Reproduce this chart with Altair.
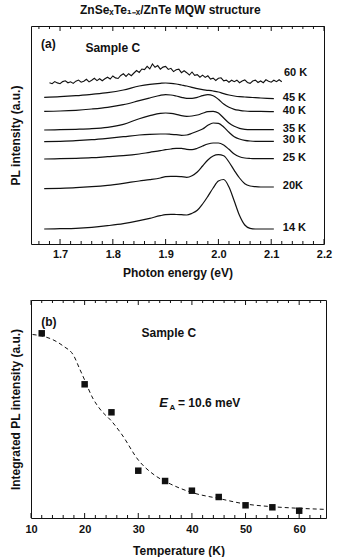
import altair as alt
import pandas as pd

# ---------------- data ----------------
E_GRID = [1.67, 1.70, 1.73, 1.76, 1.79, 1.82, 1.85, 1.87, 1.89, 1.90, 1.91, 1.92,
          1.93, 1.94, 1.95, 1.96, 1.97, 1.98, 1.99, 2.00, 2.01, 2.02, 2.03, 2.04,
          2.05, 2.06, 2.07, 2.08, 2.105]

I_14K = [15.0, 15.3, 15.7, 16.7, 18.3, 20.3, 23.3, 25.7, 28.3, 29.3, 29.7, 29.5,
         29.3, 29.0, 30.7, 33.7, 40.0, 47.7, 56.0, 63.0, 64.5, 57.0, 43.0, 28.5,
         19.0, 15.7, 15.0, 15.0, 15.0]
I_20K = [55.3, 55.7, 56.3, 57.3, 58.7, 60.7, 63.0, 64.3, 66.0, 67.3, 67.7, 67.7,
         67.3, 66.7, 68.3, 72.0, 78.0, 84.0, 88.0, 89.3, 88.3, 82.0, 73.7, 66.0,
         60.3, 58.0, 57.3, 57.0, 57.0]
I_25K = [85.0, 85.3, 85.7, 86.3, 87.3, 88.3, 90.0, 91.7, 93.3, 94.3, 95.0, 95.7,
         95.7, 94.7, 94.3, 95.7, 98.0, 100.0, 101.0, 101.0, 99.0, 94.7, 90.0, 87.3,
         86.0, 85.5, 85.3, 85.3, 85.3]
I_30K = [102.3, 102.7, 103.3, 104.3, 105.7, 107.3, 109.0, 109.7, 110.0, 110.0, 109.7, 109.3,
         108.7, 109.0, 110.7, 112.7, 115.0, 118.7, 121.0, 120.7, 117.0, 111.7, 107.3, 105.0,
         103.7, 103.0, 102.7, 102.7, 102.7]
I_35K = [114.0, 114.3, 114.7, 115.3, 116.7, 119.7, 125.3, 128.3, 130.7, 131.0, 130.7, 129.7,
         128.3, 127.7, 128.0, 129.0, 130.7, 132.3, 132.7, 131.0, 126.0, 121.0, 117.7, 115.7,
         114.7, 114.3, 114.3, 114.3, 114.3]
I_40K = [132.7, 133.0, 133.7, 135.0, 136.7, 139.3, 143.3, 146.0, 148.7, 149.3, 149.0, 148.0,
         146.7, 145.7, 145.7, 146.7, 148.3, 149.3, 148.3, 144.7, 140.0, 136.7, 134.7, 133.7,
         133.0, 132.7, 132.7, 132.7, 132.3]
I_45K = [146.7, 147.3, 148.3, 149.7, 151.3, 154.0, 158.0, 159.7, 160.7, 161.0, 160.7, 160.0,
         159.0, 158.0, 156.7, 155.3, 154.3, 153.7, 153.0, 152.0, 150.3, 149.0, 148.0, 147.3,
         147.0, 146.7, 146.3, 146.0, 145.3]

E_60K = [1.680, 1.685, 1.690, 1.695, 1.700, 1.705, 1.710, 1.715, 1.720, 1.725,
         1.730, 1.735, 1.740, 1.745, 1.750, 1.755, 1.760, 1.765, 1.770, 1.775,
         1.780, 1.785, 1.790, 1.795, 1.800, 1.805, 1.810, 1.815, 1.820, 1.825,
         1.830, 1.835, 1.840, 1.845, 1.850, 1.855, 1.860, 1.865, 1.870, 1.875,
         1.880, 1.885, 1.890, 1.895, 1.900, 1.905, 1.910, 1.915, 1.920, 1.925,
         1.930, 1.935, 1.940, 1.945, 1.950, 1.955, 1.960, 1.965, 1.970, 1.975,
         1.980, 1.985, 1.990, 1.995, 2.000, 2.005, 2.010, 2.015, 2.020, 2.025,
         2.030, 2.035, 2.040, 2.045, 2.050, 2.055, 2.060, 2.065, 2.070, 2.075,
         2.080, 2.085, 2.090, 2.095, 2.100, 2.105, 2.110, 2.115, 2.120]
I_60K = [161.3, 160.3, 162.4, 161.1, 160.3, 162.4, 163.2, 161.2, 162.2, 160.6,
         162.8, 163.9, 161.8, 162.8, 164.7, 162.1, 163.7, 165.7, 163.4, 165.2,
         163.2, 165.3, 166.8, 165.0, 168.0, 166.1, 165.5, 168.5, 170.2, 167.6,
         170.3, 168.3, 171.0, 173.5, 171.6, 175.0, 174.4, 177.7, 175.1, 180.1,
         176.7, 178.4, 174.8, 176.9, 177.6, 174.6, 175.7, 172.4, 174.2, 174.9,
         171.3, 173.2, 171.3, 169.0, 172.0, 168.7, 169.4, 166.8, 168.9, 166.6,
         168.2, 165.0, 165.8, 163.5, 165.7, 166.2, 163.1, 163.9, 161.8, 163.8,
         162.3, 163.8, 161.3, 162.9, 164.1, 161.5, 160.7, 163.0, 163.8, 161.5,
         163.0, 161.3, 164.2, 162.8, 161.8, 163.8, 162.3, 164.3, 162.3]

SPECTRA = [("14 K", I_14K), ("20K", I_20K), ("25 K", I_25K), ("30 K", I_30K),
           ("35 K", I_35K), ("40 K", I_40K), ("45 K", I_45K)]

TEMPS = [12, 20, 25, 30, 35, 40, 45, 50, 55, 60]
INTEG = [184.7, 133.7, 105.7, 47.3, 37.0, 27.3, 21.0, 12.7, 10.7, 7.3]

FIT_T = [10.3, 12, 14, 16, 18, 19, 20, 21.5, 23, 25, 27, 30, 33, 36, 40, 45, 50, 55, 60, 65]
FIT_I = [183.5, 182.0, 178.5, 172.0, 162.0, 150.0, 138.0, 120.0, 108.0, 97.0, 83.0, 58.0,
         43.0, 34.0, 25.5, 19.5, 14.0, 11.3, 9.7, 8.6]

TOP_MAJOR = [1.7, 1.8, 1.9, 2.0, 2.1, 2.2]
TOP_MINOR = [1.66, 1.68, 1.72, 1.74, 1.76, 1.78, 1.82, 1.84, 1.86, 1.88, 1.92, 1.94,
             1.96, 1.98, 2.02, 2.04, 2.06, 2.08, 2.12, 2.14, 2.16, 2.18]
BOT_MAJOR = [10, 20, 30, 40, 50, 60]
BOT_MINOR = [12, 14, 16, 18, 22, 24, 26, 28, 32, 34, 36, 38, 42, 44, 46, 48,
             52, 54, 56, 58, 62, 64]

# ---------------- tables ----------------
rows = []
for name, vals in SPECTRA:
    for e, v in zip(E_GRID, vals):
        rows.append({"T": name, "E": e, "I": v})
spec_df = pd.DataFrame(rows)
df60 = pd.DataFrame({"E": E_60K, "I": I_60K})
lab_df = pd.DataFrame({"label": [n for n, _ in SPECTRA], "I": [v[-1] for _, v in SPECTRA]})
lab60 = pd.DataFrame({"label": ["60 K"], "I": [I_60K[-1]]})
pts_df = pd.DataFrame({"T": TEMPS, "I": INTEG})
fit_df = pd.DataFrame({"T": FIT_T, "I": FIT_I})
top_major_df = pd.DataFrame({"v": TOP_MAJOR})
top_minor_df = pd.DataFrame({"v": TOP_MINOR})
bot_major_df = pd.DataFrame({"v": BOT_MAJOR})
bot_minor_df = pd.DataFrame({"v": BOT_MINOR})

FONT = "Liberation Sans"
INK = "#111111"
W1, W2, H = 293, 295, 218

xs1 = alt.Scale(domain=[1.645, 2.2], nice=False, zero=False)
ys1 = alt.Scale(domain=[0, 218], nice=False, zero=False)
xs2 = alt.Scale(domain=[10, 65], nice=False, zero=False)
ys2 = alt.Scale(domain=[0, 218], nice=False, zero=False)

x_axis1 = alt.Axis(values=TOP_MAJOR, format=".1f", tickSize=0, domain=False, grid=False,
                   labelFlush=False, labelPadding=4, title="Photon energy (eV)", titlePadding=8)
y_axis1 = alt.Axis(labels=False, ticks=False, domain=False, grid=False,
                   title="PL intensity (a.u.)", titlePadding=9)
x_axis2 = alt.Axis(values=BOT_MAJOR, format="d", tickSize=0, domain=False, grid=False,
                   labelFlush=False, labelPadding=5, title="Temperature (K)", titlePadding=11)
y_axis2 = alt.Axis(labels=False, ticks=False, domain=False, grid=False,
                   title="Integrated PL intensity (a.u.)", titlePadding=9)


def edge_ticks(df, scale, length, height):
    bot = alt.Chart(df).mark_rule(color=INK, strokeWidth=1).encode(
        x=alt.X("v:Q", scale=scale), y=alt.value(height), y2=alt.value(height - length))
    top = alt.Chart(df).mark_rule(color=INK, strokeWidth=1).encode(
        x=alt.X("v:Q", scale=scale), y=alt.value(0), y2=alt.value(length))
    return [bot, top]


# ---------------- panel (a) ----------------
lines = alt.Chart(spec_df).mark_line(color=INK, strokeWidth=1.2, interpolate="monotone").encode(
    x=alt.X("E:Q", scale=xs1, axis=x_axis1),
    y=alt.Y("I:Q", scale=ys1, axis=y_axis1),
    detail="T:N")
line60 = alt.Chart(df60).mark_line(color=INK, strokeWidth=1.1).encode(
    x=alt.X("E:Q", scale=xs1), y=alt.Y("I:Q", scale=ys1))
labels = alt.Chart(lab_df).mark_text(font=FONT, fontWeight="bold", fontSize=11, color=INK,
                                     align="left", baseline="middle", dy=-1).encode(
    x=alt.datum(2.122), y=alt.Y("I:Q", scale=ys1), text="label:N")
label60 = alt.Chart(lab60).mark_text(font=FONT, fontWeight="bold", fontSize=11, color=INK,
                                     align="left", baseline="middle", dy=-9).encode(
    x=alt.datum(2.124), y=alt.Y("I:Q", scale=ys1), text="label:N")
ann_a = alt.Chart(pd.DataFrame({"t": ["(a)"]})).mark_text(
    font=FONT, fontWeight="bold", fontSize=12, color=INK, align="left", baseline="middle").encode(
    x=alt.datum(1.664), y=alt.datum(200), text="t:N")
ann_sa = alt.Chart(pd.DataFrame({"t": ["Sample C"]})).mark_text(
    font=FONT, fontWeight="bold", fontSize=12, color=INK, align="left", baseline="middle").encode(
    x=alt.datum(1.748), y=alt.datum(196), text="t:N")

top = alt.layer(
    lines, line60, labels, label60, ann_a, ann_sa,
    *edge_ticks(top_major_df, xs1, 5, H), *edge_ticks(top_minor_df, xs1, 3, H)
).properties(width=W1, height=H)

# ---------------- panel (b) ----------------
fit = alt.Chart(fit_df).mark_line(color=INK, strokeWidth=1, strokeDash=[4, 3],
                                  interpolate="monotone").encode(
    x=alt.X("T:Q", scale=xs2, axis=x_axis2),
    y=alt.Y("I:Q", scale=ys2, axis=y_axis2))
pts = alt.Chart(pts_df).mark_square(color=INK, size=42, opacity=1).encode(
    x=alt.X("T:Q", scale=xs2), y=alt.Y("I:Q", scale=ys2))
ann_b = alt.Chart(pd.DataFrame({"t": ["(b)"]})).mark_text(
    font=FONT, fontWeight="bold", fontSize=12, color=INK, align="left", baseline="middle").encode(
    x=alt.datum(11.9), y=alt.datum(196), text="t:N")
ann_sb = alt.Chart(pd.DataFrame({"t": ["Sample C"]})).mark_text(
    font=FONT, fontWeight="bold", fontSize=12, color=INK, align="center", baseline="middle").encode(
    x=alt.datum(35.7), y=alt.datum(185), text="t:N")
ann_e = alt.Chart(pd.DataFrame({"t": ["E"]})).mark_text(
    font=FONT, fontWeight="bold", fontStyle="italic", fontSize=13, color=INK,
    align="left", baseline="middle").encode(
    x=alt.datum(33.9), y=alt.datum(115), text="t:N")
ann_sub = alt.Chart(pd.DataFrame({"t": ["A"]})).mark_text(
    font=FONT, fontWeight="bold", fontSize=8, color=INK, align="left", baseline="middle").encode(
    x=alt.datum(35.8), y=alt.datum(110), text="t:N")
ann_val = alt.Chart(pd.DataFrame({"t": ["= 10.6 meV"]})).mark_text(
    font=FONT, fontWeight="bold", fontSize=12, color=INK, align="left", baseline="middle").encode(
    x=alt.datum(37.4), y=alt.datum(115), text="t:N")

bottom = alt.layer(
    fit, pts, ann_b, ann_sb, ann_e, ann_sub, ann_val,
    *edge_ticks(bot_major_df, xs2, 5, H), *edge_ticks(bot_minor_df, xs2, 3, H)
).properties(width=W2, height=H)

chart = alt.vconcat(top, bottom, spacing=20).properties(
    title=alt.TitleParams("ZnSeₓTe₁₋ₓ/ZnTe MQW structure", font=FONT, fontSize=12,
                          fontWeight="bold", color=INK, anchor="middle", offset=8),
    padding={"left": 8, "top": 4, "right": 0, "bottom": 0},
    background="white",
).configure_view(
    stroke=INK, strokeWidth=1
).configure_axis(
    labelFont=FONT, labelFontSize=11, labelFontWeight="bold", labelColor=INK,
    titleFont=FONT, titleFontSize=12, titleFontWeight="bold", titleColor=INK,
)

chart.save("out.html", embed_options={"renderer": "svg", "actions": False})
